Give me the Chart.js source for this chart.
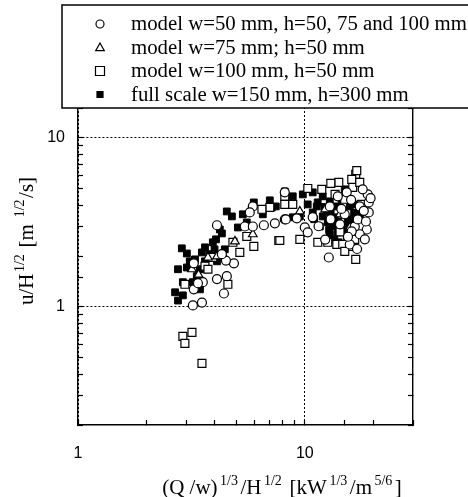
<!DOCTYPE html>
<html>
<head>
<meta charset="utf-8">
<script src="https://cdn.jsdelivr.net/npm/chart.js@4/dist/chart.umd.min.js"></script>
<style>
  html, body { margin: 0; padding: 0; background: #fff; }
  #wrap { width: 468px; height: 497px; position: relative; }
</style>
</head>
<body>
<div id="wrap"><canvas id="chart" width="468" height="497"></canvas></div>
<script>
// series names, as in the legend
const seriesLabels = [
  'model w=50 mm, h=50, 75 and 100 mm',
  'model w=75 mm; h=50 mm',
  'model w=100 mm, h=50 mm',
  'full scale w=150 mm, h=300 mm'
];

// model w=50 mm (open circles)
const w50X = [3.24, 3.24, 3.21, 3.52, 4.10, 4.40, 4.53, 4.87, 4.49, 4.10, 5.44, 5.90, 6.60, 7.38, 8.16, 5.90,
  5.72, 8.16, 4.31, 3.55, 3.38, 10.0, 10.3, 12.76, 8.25, 9.22, 10.84, 18.95, 19.14, 19.14, 18.76, 17.47,
  15.79, 16.61, 17.12, 17.47, 13.98, 15.31, 12.89, 18.0, 15.0, 16.1, 18.4, 14.3, 12.3, 17.0, 18.6,
  14.5, 16.0, 13.0, 11.5, 19.5, 18.2, 15.5];
const w50Y = [1.81, 1.27, 1.02, 1.06, 1.46, 1.20, 1.52, 1.81, 1.88, 3.04, 2.99, 2.99, 3.04, 3.12, 3.29, 3.93,
  3.62, 4.76, 2.05, 1.40, 1.38, 2.95, 2.76, 1.96, 3.29, 3.34, 3.39, 4.63, 4.15, 3.62, 2.87, 2.69,
  2.34, 2.99, 3.29, 3.93, 4.51, 4.76, 3.93, 4.96, 3.53, 2.80, 2.51, 3.08, 2.50, 2.20, 3.20,
  3.80, 4.30, 3.30, 3.00, 4.40, 3.70, 2.60];

// model w=75 mm (open triangles)
const w75X = [3.18, 4.10, 3.74, 4.92, 9.51, 5.90, 12.3, 14.3, 15.8, 3.40];
const w75Y = [1.67, 1.99, 1.96, 2.44, 3.67, 2.69, 3.78, 3.53, 2.95, 1.55];

// model w=100 mm (open squares)
const w100X = [2.96, 2.90, 3.18, 2.96, 3.52, 3.63, 3.74, 5.17, 4.82, 5.55, 5.96, 7.68, 7.01, 6.47, 4.58, 3.93,
  16.77, 16.11, 14.12, 13.02, 11.88, 10.31, 7.76, 9.51, 11.41, 12.63, 13.84, 14.70, 15.95, 15.01, 16.77,
  8.16, 8.16, 8.85, 16.27, 17.47, 16.95, 15.0, 13.6, 17.8, 14.3, 16.6];
const w100Y = [1.36, 0.669, 0.706, 0.608, 0.463, 1.74, 1.67, 2.10, 2.41, 2.61, 2.28, 2.47, 3.88, 3.78, 1.36, 1.96,
  6.08, 5.68, 5.45, 5.38, 4.96, 5.02, 2.47, 2.51, 2.41, 2.41, 2.34, 2.34, 2.28, 2.13, 1.91,
  4.51, 4.04, 4.04, 5.09, 5.45, 6.40, 4.33, 4.63, 4.04, 2.78, 2.51];

// full scale (filled squares)
const fullX = [2.87, 3.02, 2.76, 3.02, 2.90, 2.68, 2.76, 2.90, 3.21, 3.34, 3.45, 3.52, 3.63, 3.82, 3.93, 4.06,
  4.22, 4.31, 4.53, 4.77, 5.07, 5.33, 5.55, 5.96, 6.53, 7.01, 7.16, 7.45, 8.16, 4.44, 4.35, 4.10, 3.28,
  3.45, 3.11, 3.63, 4.00,
  9.80, 10.84, 12.00, 12.89, 13.84, 14.70, 12.00, 12.63, 13.29, 13.98, 15.31, 11.29, 8.85, 9.51, 14.55,
  15.79, 11.65, 14.70, 13.56, 16.11, 12.50, 10.84, 8.85, 15.0, 16.6, 14.1, 12.9, 11.4, 10.3, 17.5, 15.5,
  13.0, 14.0, 12.2, 15.0, 13.5, 14.8, 16.5, 11.0, 12.8, 16.0];
const fullY = [2.22, 2.07, 1.67, 1.71, 1.40, 1.22, 1.09, 1.17, 1.40, 1.52, 1.67, 2.10, 2.25, 2.05, 2.41, 2.51,
  2.87, 2.72, 3.67, 3.43, 2.95, 3.53, 3.16, 4.15, 3.53, 4.27, 3.88, 3.93, 4.82, 2.19, 1.96, 1.86, 1.91,
  1.27, 1.86, 1.86, 2.19,
  4.63, 4.76, 4.51, 4.21, 3.93, 3.62, 3.43, 3.16, 2.99, 2.76, 2.61, 3.93, 3.39, 3.43, 4.33,
  3.93, 2.99, 2.99, 3.39, 3.29, 3.67, 3.62, 4.51, 4.96, 4.04, 2.41, 2.69, 4.15, 4.04, 3.53, 3.21,
  3.60, 3.20, 3.90, 3.00, 2.50, 2.80, 3.60, 3.30, 2.85, 2.70];

// axis ranges and the tick values that get a label
const xRange = [1, 30];
const yRange = [0.2, 20];
const labelledTicks = [1, 10];

const serif = '"Liberation Serif", "Times New Roman", serif';
const sans = '"Liberation Sans", Arial, sans-serif';

const toPoints = (xs, ys) => xs.map((x, i) => ({ x: x, y: ys[i] }));
const isLabelled = v => labelledTicks.some(t => Math.abs(t - v) < 1e-9);

// draws text with superscript pieces, centred on x; gap = extra space round superscripts
function richText(ctx, parts, x, y, size, supSize, gap) {
  const widthOf = p => {
    ctx.font = (p[1] ? supSize : size) + 'px ' + serif;
    return ctx.measureText(p[0]).width + (p[1] ? gap * 2 : 0);
  };
  let w = 0;
  parts.forEach(p => { w += widthOf(p); });
  let cx = x - w / 2;
  ctx.textAlign = 'left';
  ctx.textBaseline = 'alphabetic';
  parts.forEach(p => {
    const pw = widthOf(p);
    ctx.fillText(p[0], cx + (p[1] ? gap : 0), p[1] ? y - size * 0.45 : y);
    cx += pw;
  });
}

function drawSymbol(ctx, style, filled, x, y, r) {
  ctx.beginPath();
  if (style === 'circle') {
    ctx.arc(x, y, r, 0, Math.PI * 2);
  } else if (style === 'triangle') {
    ctx.moveTo(x, y - r);
    ctx.lineTo(x + r * 0.95, y + r * 0.7);
    ctx.lineTo(x - r * 0.95, y + r * 0.7);
    ctx.closePath();
  } else {
    ctx.rect(x - r, y - r, r * 2, r * 2);
  }
  if (filled) { ctx.fillStyle = '#000'; ctx.fill(); }
  ctx.lineWidth = 1.2;
  ctx.strokeStyle = '#000';
  ctx.stroke();
}

const overlay = {
  id: 'overlay',
  afterDraw(chart) {
    const ctx = chart.ctx;
    ctx.save();
    // legend box over the top of the plot
    ctx.fillStyle = '#fff';
    ctx.fillRect(62, 5, 420, 103);
    ctx.strokeStyle = '#000';
    ctx.lineWidth = 1.5;
    ctx.strokeRect(62, 5, 420, 103);
    const sizes = [4, 4.5, 4.5, 3];
    chart.data.datasets.forEach((ds, i) => {
      const y = 24 + i * 23.5;
      drawSymbol(ctx, ds.pointStyle, ds.backgroundColor === '#000', 100, y, sizes[i]);
      ctx.fillStyle = '#000';
      ctx.font = '20.8px ' + serif;
      ctx.textAlign = 'left';
      ctx.textBaseline = 'alphabetic';
      ctx.fillText(ds.label, 131, y + 6);
    });
    // axis titles
    ctx.fillStyle = '#000';
    richText(ctx, [['(Q /w)', 0], ['1/3', 1], ['/H', 0], ['1/2', 1], [' [kW', 0], ['1/3', 1], ['/m', 0], ['5/6', 1], [']', 0]],
      282, 494, 21, 14, 2.5);
    ctx.translate(33, 241);
    ctx.rotate(-Math.PI / 2);
    richText(ctx, [['u/H', 0], ['1/2', 1], [' [m ', 0], ['1/2', 1], ['/s]', 0]], 0, 0, 21, 14, 1.5);
    ctx.restore();
  }
};

const gridColor = c => (c.tick && isLabelled(c.tick.value)) ? '#000' : 'rgba(0,0,0,0)';

new Chart(document.getElementById('chart'), {
  type: 'scatter',
  data: {
    datasets: [
      { label: seriesLabels[0], data: toPoints(w50X, w50Y), pointStyle: 'circle', pointRadius: 4.5,
        backgroundColor: '#fff', borderColor: '#000', borderWidth: 1.2 },
      { label: seriesLabels[1], data: toPoints(w75X, w75Y), pointStyle: 'triangle', pointRadius: 5,
        backgroundColor: '#fff', borderColor: '#000', borderWidth: 1.2 },
      { label: seriesLabels[2], data: toPoints(w100X, w100Y), pointStyle: 'rect', pointRadius: 5.6,
        backgroundColor: '#fff', borderColor: '#000', borderWidth: 1.2 },
      { label: seriesLabels[3], data: toPoints(fullX, fullY), pointStyle: 'rect', pointRadius: 4.8,
        backgroundColor: '#000', borderColor: '#000', borderWidth: 1 }
    ]
  },
  options: {
    responsive: false,
    animation: false,
    devicePixelRatio: 1,
    layout: { padding: { top: 87, left: 0, right: 0, bottom: 0 } },
    plugins: { legend: { display: false }, tooltip: { enabled: false } },
    scales: {
      x: {
        type: 'logarithmic', position: 'bottom', min: xRange[0], max: xRange[1],
        border: { display: true, color: '#000', width: 1.4, dash: [2, 2] },
        grid: { color: gridColor, lineWidth: 1, tickColor: '#000', tickLength: -5, tickWidth: 1.2 },
        ticks: { autoSkip: false, maxRotation: 0, padding: 24, color: '#000',
          font: { family: sans, size: 16 }, callback: v => isLabelled(v) ? String(v) : '' },
        afterFit: s => { s.height = 72; }
      },
      y: {
        type: 'logarithmic', position: 'left', min: yRange[0], max: yRange[1],
        border: { display: true, color: '#000', width: 1.4, dash: [2, 2] },
        grid: { color: gridColor, lineWidth: 1, tickColor: '#000', tickLength: -5, tickWidth: 1.2 },
        ticks: { autoSkip: false, padding: 18, color: '#000',
          font: { family: sans, size: 16 }, callback: v => isLabelled(v) ? String(v) : '' },
        afterFit: s => { s.width = 78; }
      },
      y2: {
        type: 'logarithmic', position: 'right', min: yRange[0], max: yRange[1],
        border: { display: true, color: '#000', width: 1.4 },
        grid: { drawOnChartArea: false, color: '#000', tickLength: -5, tickWidth: 1.2 },
        ticks: { display: false, autoSkip: false },
        afterFit: s => { s.width = 55; }
      }
    }
  },
  plugins: [overlay]
});
</script>
</body>
</html>
